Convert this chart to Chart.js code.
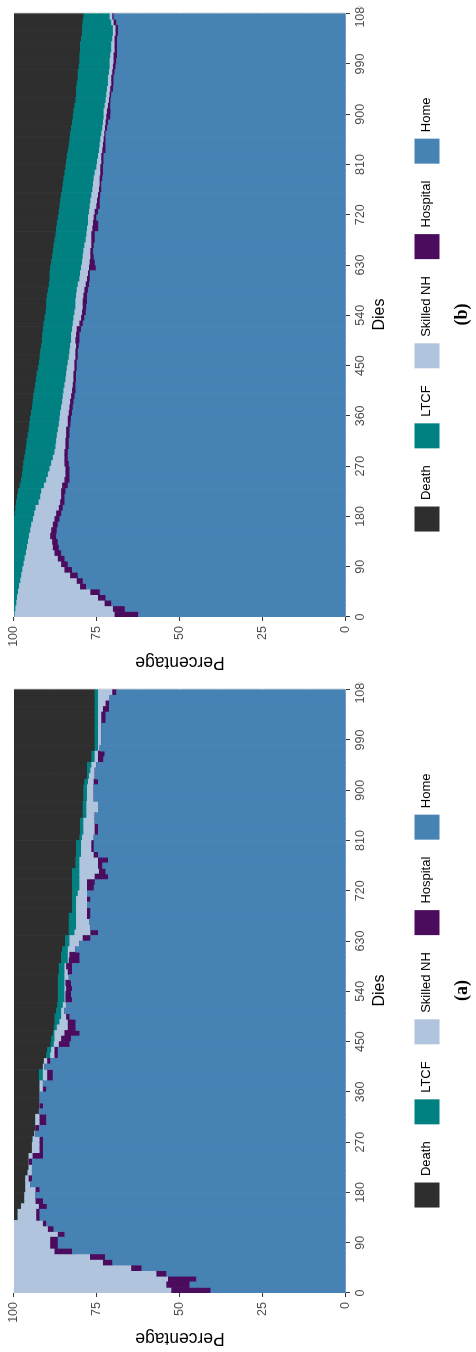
<!DOCTYPE html>
<html>
<head>
<meta charset="utf-8">
<script src="https://cdn.jsdelivr.net/npm/chart.js@4.4.0/dist/chart.umd.min.js"></script>
<style>
  html, body { margin: 0; padding: 0; background: #fff; overflow: hidden; }
  /* figure is laid out landscape, then turned a quarter turn counter-clockwise */
  #figure {
    position: absolute; left: 0; top: 0;
    width: 1352px; height: 476px;
    transform-origin: 0 0;
    transform: translateY(1352px) rotate(-90deg);
    background: #fff;
  }
  /* panels are cropped just past the last tick, so "1080" shows as "108" */
  .panel { position: absolute; top: 0; width: 670px; height: 476px; overflow: hidden; }
  #panelA { left: 0; }
  #panelB { left: 676px; }
  canvas { display: block; }
</style>
</head>
<body>
<div id="figure">
  <div class="panel" id="panelA"><canvas id="chartA" width="700" height="476"></canvas></div>
  <div class="panel" id="panelB"><canvas id="chartB" width="700" height="476"></canvas></div>
</div>
<script>
// 10-day bins, 0 - 1080 days (bin centres)
const dayBins = Array.from({ length: 108 }, (_, i) => i * 10 + 5);
const dayTicks = [0, 90, 180, 270, 360, 450, 540, 630, 720, 810, 900, 990, 1080];
const pctTicks = [0, 25, 50, 75, 100];
const pctGrid = [0, 12.5, 25, 37.5, 50, 62.5, 75, 87.5, 100];

// Panel (a)
const deathA = [0,0,0,0,0,0,0,0,0,0,0,0,0,1.2,1.2,2.2,3.2,3.2,3.5,3.5,3.5,4.2,4.5,4.5,4.5,5.5,5.5,5.7,6.2,6.5,6.5,6.5,7.6,7.8,7.8,7.8,7.8,7.8,7.6,7.6,8.8,9.1,9.8,10.1,11.1,11.3,11.8,12.1,12.3,12.3,12.8,13.1,13.3,13.3,
  13.3,13.3,13.3,13.6,13.6,14.3,14.3,14.6,15.5,15.5,16.6,16.6,16.6,16.6,17.6,17.6,17.6,17.6,17.6,17.6,17.6,17.6,18.6,18.6,18.8,18.8,18.8,19.8,20.0,20.0,20.0,20.8,20.8,20.8,21.0,21.0,21.0,21.3,22.1,22.1,22.1,23.4,23.4,24.4,24.4,24.4,24.4,24.4,24.4,24.4,24.4,24.4,24.4,24.4];
const ltcfA = [0,0,0,0,0,0,0,0,0,0,0,0,0,0,0,0,0,0,0,0,0,0,0,0,0,0,0,0,0,0,0,0,0,0,0,0,0,0,1.2,1.2,0,0,1.2,1.2,1.0,1.0,0.5,0.9,1.5,2.0,1.5,1.7,2.0,2.0,
  2.0,2.0,2.0,1.7,1.7,2.0,2.0,1.7,1.3,1.3,1.7,2.2,2.2,2.2,1.2,1.2,1.2,1.7,2.2,2.2,2.2,2.2,1.2,1.2,1.5,1.5,1.5,0.8,1.0,1.0,1.0,1.1,1.1,1.1,1.1,1.1,1.1,1.1,0.6,1.0,1.3,1.0,1.0,1.0,1.0,1.0,1.0,1.0,1.0,1.0,1.0,1.0,1.0,1.0];
const snhA = [47.5,46,46.5,43,35.4,26.9,23,12.3,11,11,13.3,10.3,8.8,5.6,5.6,5.4,3.4,3.4,3.1,1.5,1.0,1.3,1.0,0,1.2,2.3,2.3,2.1,0.3,0,1.3,1.3,0.2,0,0,0,1.0,1.0,1.3,1.3,0.5,1.0,1.3,1.0,1.5,2.0,3.0,3.3,2.5,1.5,1.0,1.0,0.3,0.3,
  0.5,0.3,1.3,1.0,0.5,0.3,0.5,2.3,3.0,4.0,4.8,4.3,3.9,3.3,3.3,3.3,3.3,2.8,2.3,2.3,4.6,5.9,5.6,5.6,3.8,3.1,3.1,3.5,3.4,3.4,3.4,2.5,3.5,3.5,2.0,2.0,2.0,1.7,1.7,1.3,1.5,1.0,1.0,0.5,1.0,1.0,1.0,1.0,1.0,1.0,1.5,2.3,3.5,4.3];
const hospA = [11.8,7,8.5,3,3.1,2.8,4.5,5.3,2.3,2.3,2.0,1.7,1.0,1.0,1.0,2.4,2.2,0,1.2,0,1.0,0,0,1.0,3.1,1.0,1.0,1.0,0,1.1,2.0,2.0,0,1.0,0,0,1.0,0,1.7,1.7,0,0.9,1.0,1.0,3.2,3.0,4.5,2.3,2.3,1.0,0,0,2.0,1.7,
  1.8,1.7,0,1.3,1.8,3.2,3.0,0,0,2.3,2.3,0,0,1.0,1.0,0,1.0,0,2.0,2.3,4.0,2.0,1.3,3.0,1.3,0.7,0.7,0,1.0,1.0,0,0,0,0,0,0,0,1.3,0,0,0,1.6,2.0,0,0,0,0,0,1.3,1.3,1.8,1.0,0,1.2];
const homeA = [40.7,47,45,54,61.5,70.3,72.5,82.4,86.7,86.7,84.7,88,90.2,92.2,92.2,90,91.2,93.4,92.2,95,94.5,94.5,94.5,94.5,91.2,91.2,91.2,91.2,93.5,92.4,90.2,90.2,92.2,91.2,92.2,92.2,90.2,91.2,88.2,88.2,90.7,89,86.7,86.7,83.2,82.7,80.2,81.4,81.4,83.2,84.7,84.2,82.4,82.7,
  82.4,82.7,83.4,82.4,82.4,80.2,80.2,81.4,80.2,76.9,74.6,76.9,77.3,76.9,76.9,77.9,76.9,77.9,75.9,75.6,71.6,72.3,73.3,71.6,74.6,75.9,75.9,75.9,74.6,74.6,75.6,75.6,74.6,74.6,75.9,75.9,75.9,74.6,75.6,75.6,75.1,73.0,72.6,74.1,73.6,73.6,73.6,73.6,72.3,72.3,71.3,71.3,71.1,69.1];

// Panel (b)
const deathB = [0,0,0,0,0,0,0,0,0,0,0,0,0,0,0,0,0,0,0.3,0.5,0.7,1.0,1.3,1.8,2.2,2.5,2.7,2.9,3.2,3.5,3.7,3.9,4.2,4.5,4.7,4.9,5.2,5.5,5.7,5.9,6.2,6.5,6.7,6.9,7.3,7.6,7.8,8.0,8.3,8.5,8.6,8.8,9.0,9.3,9.6,
  9.8,9.8,10.0,10.3,10.6,10.8,10.8,11.0,11.3,11.6,11.8,12.0,12.3,12.6,12.8,13.0,13.3,13.6,13.8,14.0,14.3,14.6,14.8,15.0,15.3,15.6,15.8,16.0,16.3,16.6,16.8,17.0,17.3,17.6,17.8,18.0,18.3,18.6,18.8,18.8,19.0,19.3,19.3,19.6,19.8,19.8,20.0,20.0,20.3,20.6,20.6,20.8,21.0];
const ltcfB = [0.3,0.5,0.8,1.0,1.3,1.6,2.0,2.3,2.6,3.0,3.3,3.7,4.0,4.3,4.6,5.0,5.3,5.8,5.9,6.1,6.8,7.0,7.0,7.3,7.6,7.8,8.1,8.4,8.6,8.8,8.9,8.9,8.8,8.8,8.9,8.9,8.8,8.8,8.9,8.9,8.8,8.8,8.9,8.9,8.7,8.7,8.8,8.8,8.7,8.8,8.7,8.8,8.8,8.7,8.7,
  8.8,8.8,8.8,8.7,8.7,9.0,9.2,9.3,9.3,9.2,9.2,9.3,9.4,9.3,9.3,9.4,9.1,9.1,9.1,9.1,9.1,9.1,9.1,9.1,9.1,9.3,9.3,9.4,9.4,9.3,9.3,9.4,9.4,9.3,9.3,9.1,9.1,9.1,9.1,9.3,9.4,9.1,9.4,9.3,9.1,9.3,9.4,9.4,9.4,9.3,9.3,8.6,7.9];
const snhB = [30.1,29.4,26.6,24.4,21.8,18.4,17.0,14.7,12.7,11.3,10.0,8.6,7.8,7.3,6.4,6.3,6.5,6.5,6.6,7.0,6.5,6.3,6.0,5.5,5.5,5.3,4.8,4.0,3.5,3.0,3.0,2.8,2.8,2.5,2.7,2.5,2.6,2.5,2.4,2.5,2.6,2.5,2.4,2.2,2.3,2.0,2.0,1.8,1.8,1.3,1.5,1.4,2.0,2.3,2.3,
  2.2,2.2,2.2,2.3,2.4,2.3,2.4,2.4,2.3,2.3,2.1,2.1,1.7,1.5,1.6,1.5,1.7,1.7,2.0,2.0,2.0,2.0,2.0,1.8,1.7,1.2,1.3,1.0,1.0,1.0,1.0,0.9,0.8,0.8,0.8,1.0,1.0,1.0,1.0,1.0,1.0,1.0,1.0,1.0,1.2,1.0,1.0,1.0,0.7,0.8,0.8,0.7,0.8];
const hospB = [7.1,3.6,2.0,2.3,2.8,1.8,1.8,2.3,2.3,2.0,2.0,2.0,1.8,1.7,1.8,1.7,1.5,1.5,1.5,1.2,1.3,1.0,1.3,1.7,1.5,1.2,1.2,1.3,1.0,1.0,1.0,1.0,1.0,1.0,0.8,1.0,1.0,1.0,1.0,1.0,1.0,0.8,0.8,0.8,0.7,0.7,0.7,0.7,0.8,1.2,1.0,1.3,1.0,1.0,1.1,
  1.1,1.3,1.1,1.1,1.0,0.8,0.5,2.0,1.5,1.0,0.8,0.7,1.0,1.0,1.8,1.6,0.8,1.0,1.0,0.8,0.7,0.7,0.5,0.8,0.8,0.8,0.7,0.7,1.0,0.8,0.6,0.4,0.6,0.7,1.2,1.1,0.7,0.5,0.5,0.8,0.7,0.7,0.7,0.8,0.8,1.0,0.7,0.7,0.7,0.7,0.7,0.8,0.4];
const homeB = [62.5,66.5,70.6,72.3,74.1,78.2,79.2,80.7,82.4,83.7,84.7,85.7,86.4,86.7,87.2,87.0,86.7,86.2,85.7,85.2,84.7,84.7,84.4,83.7,83.2,83.2,83.2,83.4,83.7,83.7,83.4,83.4,83.2,83.2,82.9,82.7,82.4,82.2,82.0,81.7,81.4,81.4,81.2,81.2,81.0,81.0,80.7,80.7,80.4,80.2,80.2,79.7,79.2,78.7,78.3,
  78.1,77.9,77.9,77.6,77.3,77.1,77.1,75.3,75.6,75.9,76.1,75.9,75.6,75.6,74.5,74.5,75.1,74.6,74.1,74.1,73.9,73.6,73.6,73.3,73.1,73.1,72.9,72.9,72.3,72.3,72.3,72.3,71.9,71.6,70.9,70.8,70.9,70.8,70.6,70.1,69.9,69.9,69.6,69.3,69.1,68.9,68.9,68.9,68.9,68.6,68.6,69.1,69.9];

const colors = {
  home: '#4682B4',
  hospital: '#4B0C5E',
  snh: '#B0C4DE',
  ltcf: '#008080',
  death: '#2E2E2E'
};

const sans = "'Liberation Sans', Arial, sans-serif";
const tickFont = { family: sans, size: 12.5 };

// grey panel background (only shows in the thin strip past 1080)
const panelBg = {
  id: 'panelBg',
  beforeDraw(chart) {
    const { ctx, chartArea: a } = chart;
    ctx.save();
    ctx.fillStyle = '#EBEBEB';
    ctx.fillRect(a.left, a.top, a.right - a.left, a.bottom - a.top);
    ctx.restore();
  }
};

const toPoints = vals => vals.map((v, i) => ({ x: dayBins[i], y: v }));

const makeChart = (id, home, hosp, snh, ltcf, death, caption) => {
  new Chart(document.getElementById(id), {
    type: 'bar',
    data: {
      datasets: [
        { label: 'Home', data: toPoints(home), backgroundColor: colors.home },
        { label: 'Hospital', data: toPoints(hosp), backgroundColor: colors.hospital },
        { label: 'Skilled NH', data: toPoints(snh), backgroundColor: colors.snh },
        { label: 'LTCF', data: toPoints(ltcf), backgroundColor: colors.ltcf },
        { label: 'Death', data: toPoints(death), backgroundColor: colors.death }
      ]
    },
    options: {
      responsive: false,
      animation: false,
      devicePixelRatio: 1,
      layout: { padding: { left: 0, right: 36, top: 14, bottom: 0 } },
      datasets: { bar: { barPercentage: 1, categoryPercentage: 1, borderWidth: 0 } },
      scales: {
        x: {
          type: 'linear',
          stacked: true,
          min: 0,
          max: 1083,
          offset: false,
          afterBuildTicks: s => { s.ticks = dayTicks.map(v => ({ value: v })); },
          afterFit: s => { s.height = 51.5; },
          border: { display: false },
          grid: { offset: false, drawOnChartArea: false, tickLength: 4, tickColor: '#333333', tickWidth: 1 },
          ticks: { color: '#4D4D4D', font: tickFont, padding: 3, maxRotation: 0, autoSkip: false, callback: v => String(v) },
          title: { display: true, text: 'Dies', color: '#000', font: { family: sans, size: 16 }, padding: { top: 0, bottom: 8 } }
        },
        y: {
          stacked: true,
          min: 0,
          max: 100,
          afterBuildTicks: s => { s.ticks = pctGrid.map(v => ({ value: v })); },
          afterFit: s => { s.width = 59; },
          border: { display: false },
          grid: {
            color: '#FFFFFF',
            lineWidth: c => pctTicks.includes(c.tick.value) ? 1.1 : 0.5,
            tickLength: 4,
            tickWidth: 1,
            tickColor: c => pctTicks.includes(c.tick.value) ? '#333333' : 'rgba(0,0,0,0)'
          },
          ticks: { color: '#4D4D4D', font: tickFont, padding: 5, autoSkip: false, callback: v => pctTicks.includes(v) ? String(v) : '' },
          title: { display: true, text: 'Percentage', color: '#000', font: { family: sans, size: 17.5 }, padding: { top: 4, bottom: 0 } }
        }
      },
      plugins: {
        legend: {
          position: 'bottom',
          reverse: true,
          fullSize: false,
          labels: { boxWidth: 25, boxHeight: 25, padding: 17, color: '#000', font: { family: sans, size: 13 } }
        },
        title: {
          display: true,
          text: caption,
          position: 'bottom',
          fullSize: false,
          color: '#000',
          font: { family: "'Liberation Serif', 'Times New Roman', serif", size: 18, weight: 'bold' },
          padding: { top: 2, bottom: 3 }
        },
        tooltip: { enabled: false }
      }
    },
    plugins: [panelBg]
  });
};

makeChart('chartA', homeA, hospA, snhA, ltcfA, deathA, '(a)');
makeChart('chartB', homeB, hospB, snhB, ltcfB, deathB, '(b)');
</script>
</body>
</html>
